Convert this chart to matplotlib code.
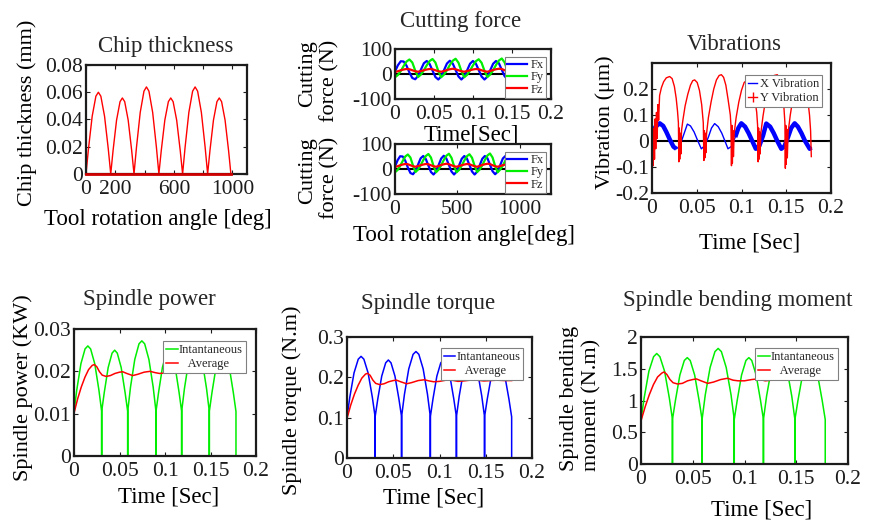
import numpy as np
import matplotlib
matplotlib.use("Agg")
import matplotlib.pyplot as plt
from matplotlib.lines import Line2D

plt.rcParams['font.family'] = ['Liberation Serif', 'DejaVu Serif']
plt.rcParams['axes.unicode_minus'] = False
plt.rcParams['text.color'] = '#262626'

FIG_W, FIG_H = 871, 520
INK = '#1c1c1c'
RED, BLUE, GREEN = '#ff0000', '#0000ff', '#00ee00'

# ---------------- chip thickness (deg, mm) ----------------
LOBE_FRACTIONS = [0.0, 0.1, 0.25, 0.4, 0.5, 0.6, 0.75, 0.9, 1.0]

chip_edges = [0, 169, 328, 498, 660, 831, 990]
chip_lobes = [
    [0, .0185, .0424, .0571, .0600, .0571, .0424, .0185, 0],
    [0, .0172, .0395, .0531, .0558, .0531, .0395, .0172, 0],
    [0, .0197, .0452, .0608, .0639, .0608, .0452, .0197, 0],
    [0, .0172, .0395, .0531, .0558, .0531, .0395, .0172, 0],
    [0, .0197, .0452, .0608, .0639, .0608, .0452, .0197, 0],
    [0, .0172, .0395, .0531, .0558, .0531, .0395, .0172, 0],
]
chip_baseline_end = 990

# ---------------- cutting forces (N) ----------------
FORCE_DT = 0.0037          # s between samples
DEG_PER_SEC = 5560         # spindle speed
fx_force = [10, 35, 51, 50, 33, 6, -16, -21,
            -8, 18, 43, 52, 40, 14, -12, -22,
            -10, 16, 42, 53, 42, 16, -10, -22,
            -10, 15, 41, 52, 42, 16, -10, -22,
            -11, 15, 41, 52, 43, 17, -9, -21,
            -10, 16, 42, 52, 42, 16, -10, -22]
fy_force = [-13, -4, 12, 32, 50, 58, 46, 14,
            -12, -2, 15, 35, 52, 60, 46, 12,
            -13, -2, 15, 36, 53, 61, 45, 12,
            -13, -3, 14, 34, 51, 59, 45, 13,
            -12, -2, 15, 36, 54, 62, 46, 12,
            -13, -2, 14, 34, 52, 60, 45, 12]
fz_force = [8, 11, 15, 18, 20, 19, 15, 11,
            9, 12, 15, 18, 20, 19, 15, 11,
            9, 12, 16, 19, 21, 19, 15, 11,
            9, 12, 15, 18, 20, 19, 15, 11,
            9, 12, 16, 19, 21, 20, 15, 11,
            9, 12, 15, 18, 20, 19, 15, 11]

# ---------------- vibrations (um) ----------------
vib_x_time = [0.0000, 0.0040, 0.0086, 0.0125, 0.0160, 0.0200, 0.0240, 0.0272,
              0.0310, 0.0350, 0.0395, 0.0430, 0.0470, 0.0510, 0.0551,
              0.0590, 0.0630, 0.0665, 0.0700, 0.0740, 0.0780, 0.0815, 0.0849,
              0.0890, 0.0930, 0.0965, 0.0998, 0.1040, 0.1080, 0.1120, 0.1160,
              0.1200, 0.1240, 0.1277, 0.1320, 0.1360, 0.1400, 0.1445,
              0.1480, 0.1520, 0.1555, 0.1594, 0.1630, 0.1670, 0.1710, 0.1762, 0.1780]
vib_x = [0.028, 0.055, 0.068, 0.058, 0.035, 0.005, -0.022, -0.030,
         -0.020, 0.020, 0.065, 0.058, 0.035, 0.002, -0.030,
         -0.018, 0.015, 0.050, 0.067, 0.055, 0.030, 0.000, -0.030,
         -0.020, 0.015, 0.050, 0.068, 0.055, 0.030, 0.000, -0.030,
         -0.018, 0.020, 0.067, 0.055, 0.030, 0.000, -0.030,
         -0.020, 0.015, 0.050, 0.068, 0.055, 0.030, 0.000, -0.030, -0.025]
vib_x_chatter = [(0.0, 0.029), (0.091, 0.178)]   # where X shows a dense band

vib_y_time = [0.0000, 0.0007, 0.0014, 0.0021, 0.0028, 0.0035, 0.0042, 0.0050, 0.0058, 0.0066, 0.0074, 0.0085,
              0.0105, 0.0130, 0.0160, 0.0197, 0.0225, 0.0250, 0.0270, 0.0285, 0.0295,
              0.0300, 0.0305, 0.0310, 0.0316, 0.0322, 0.0330,
              0.0345, 0.0370, 0.0400, 0.0430, 0.0455, 0.0477, 0.0505, 0.0530, 0.0555, 0.0573,
              0.0580, 0.0585, 0.0590, 0.0596, 0.0602, 0.0610,
              0.0630, 0.0660, 0.0690, 0.0720, 0.0750, 0.0775, 0.0800, 0.0825, 0.0850, 0.0875, 0.0882,
              0.0888, 0.0893, 0.0898, 0.0904, 0.0910, 0.0918,
              0.0940, 0.0970, 0.1000, 0.1030, 0.1073, 0.1100, 0.1125, 0.1150, 0.1170, 0.1180,
              0.1186, 0.1191, 0.1196, 0.1202, 0.1208, 0.1216,
              0.1240, 0.1270, 0.1300, 0.1330, 0.1365, 0.1400, 0.1425, 0.1450, 0.1470, 0.1485,
              0.1490, 0.1495, 0.1500, 0.1506, 0.1512, 0.1520,
              0.1545, 0.1575, 0.1605, 0.1635, 0.1665, 0.1690, 0.1715, 0.1740, 0.1760, 0.1772, 0.1780]
vib_y = [-0.110, 0.020, -0.095, 0.050, -0.070, 0.085, -0.030, 0.110, 0.010, 0.140, 0.080, 0.175,
         0.205, 0.228, 0.243, 0.248, 0.240, 0.210, 0.165, 0.115, 0.070,
         -0.080, 0.050, -0.070, 0.030, -0.050, 0.040,
         0.080, 0.135, 0.180, 0.215, 0.232, 0.235, 0.225, 0.195, 0.140, 0.070,
         -0.075, 0.040, -0.065, 0.030, -0.045, 0.030,
         0.090, 0.150, 0.200, 0.235, 0.252, 0.255, 0.245, 0.215, 0.160, 0.100, 0.060,
         -0.095, 0.060, -0.085, 0.040, -0.060, 0.030,
         0.090, 0.150, 0.195, 0.225, 0.237, 0.230, 0.205, 0.160, 0.110, 0.060,
         -0.080, 0.050, -0.070, 0.035, -0.050, 0.030,
         0.095, 0.160, 0.205, 0.235, 0.252, 0.255, 0.240, 0.205, 0.150, 0.070,
         -0.105, 0.060, -0.090, 0.045, -0.065, 0.030,
         0.100, 0.165, 0.210, 0.240, 0.250, 0.245, 0.215, 0.160, 0.100, 0.040, -0.060]

# ---------------- spindle loads ----------------
spindle_edges = [0, 0.0304, 0.0590, 0.0901, 0.1183, 0.1487, 0.1780]
power_lobes = [
    [.0104, .0156, .0218, .0253, .0260, .0253, .0218, .0156, .0105],
    [.0105, .0150, .0209, .0243, .0250, .0243, .0209, .0150, .0105],
    [.0105, .0163, .0228, .0265, .0272, .0265, .0228, .0163, .0105],
    [.0105, .0150, .0209, .0243, .0250, .0243, .0209, .0150, .0105],
    [.0105, .0159, .0222, .0258, .0265, .0258, .0222, .0159, .0105],
    [.0105, .0150, .0209, .0243, .0250, .0243, .0209, .0150, .0105],
]
torque_lobes = [
    [.101, .151, .211, .245, .252, .245, .211, .151, .102],
    [.102, .146, .203, .236, .243, .236, .203, .146, .102],
    [.102, .158, .221, .257, .264, .257, .221, .158, .102],
    [.102, .146, .203, .236, .243, .236, .203, .146, .102],
    [.102, .154, .215, .250, .257, .250, .215, .154, .102],
    [.102, .146, .203, .236, .243, .236, .203, .146, .102],
]
moment_lobes = [
    [.69, 1.04, 1.46, 1.69, 1.74, 1.69, 1.46, 1.04, .70],
    [.70, 1.00, 1.40, 1.63, 1.675, 1.63, 1.40, 1.00, .70],
    [.70, 1.09, 1.52, 1.77, 1.82, 1.77, 1.52, 1.09, .70],
    [.70, 1.00, 1.40, 1.63, 1.675, 1.63, 1.40, 1.00, .70],
    [.70, 1.07, 1.49, 1.73, 1.775, 1.73, 1.49, 1.07, .70],
    [.70, 1.00, 1.40, 1.63, 1.675, 1.63, 1.40, 1.00, .70],
]
avg_time = [0, 0.004, 0.008, 0.012, 0.016, 0.020, 0.0223, 0.025, 0.028, 0.031, 0.0353,
            0.040, 0.045, 0.050, 0.0535, 0.058, 0.0645, 0.070, 0.077, 0.0836, 0.089,
            0.0938, 0.100, 0.107, 0.113, 0.120, 0.126, 0.133, 0.140, 0.148, 0.155,
            0.162, 0.170, 0.178]
power_avg = [0.0101, 0.0135, 0.0163, 0.0186, 0.0204, 0.0214, 0.0216, 0.0211, 0.0199, 0.0191, 0.0188,
             0.0190, 0.0195, 0.0198, 0.0199, 0.0195, 0.0190, 0.0193, 0.0198, 0.0200, 0.0197,
             0.0195, 0.0196, 0.0199, 0.0199, 0.0196, 0.0197, 0.0199, 0.0199, 0.0197, 0.0198,
             0.0199, 0.0198, 0.0198]
torque_avg = [0.098, 0.131, 0.158, 0.180, 0.198, 0.208, 0.210, 0.205, 0.193, 0.185, 0.182,
              0.184, 0.189, 0.192, 0.193, 0.189, 0.184, 0.187, 0.192, 0.194, 0.191,
              0.189, 0.190, 0.193, 0.193, 0.190, 0.191, 0.193, 0.193, 0.191, 0.192,
              0.193, 0.192, 0.192]
moment_avg = [0.68, 0.90, 1.09, 1.25, 1.37, 1.43, 1.45, 1.41, 1.33, 1.28, 1.26,
              1.27, 1.31, 1.33, 1.34, 1.31, 1.27, 1.29, 1.33, 1.35, 1.32,
              1.31, 1.31, 1.33, 1.34, 1.31, 1.32, 1.33, 1.34, 1.32, 1.33,
              1.34, 1.33, 1.33]

TIME_TICKS = [0, 0.05, 0.1, 0.15, 0.2]
TIME_LABELS = ['0', '0.05', '0.1', '0.15', '0.2']


def lobe_curve(edges, lobes, dip_to_zero):
    xs, ys = [], []
    for i, vals in enumerate(lobes):
        a, b = edges[i], edges[i + 1]
        xs += [a + f * (b - a) for f in LOBE_FRACTIONS]
        ys += list(vals)
        if dip_to_zero:
            xs.append(b)
            ys.append(0.0)
    return xs, ys


def px_axes(fig, x0, y0, x1, y1):
    ax = fig.add_axes([x0 / FIG_W, 1 - y1 / FIG_H, (x1 - x0) / FIG_W, (y1 - y0) / FIG_H])
    for s in ax.spines.values():
        s.set_linewidth(1.6)
        s.set_color(INK)
    ax.tick_params(direction='in', top=True, right=True, length=3, width=0.8,
                   labelsize=15.5, colors=INK)
    ax.tick_params(axis='x', pad=4)
    ax.tick_params(axis='y', pad=2)
    return ax


def put_labels(ax, title, title_x, title_pad, xlabel, xpos, ylabel, ypos, yalign='center'):
    ax.set_title(title, fontsize=16.5, x=title_x, pad=title_pad)
    ax.set_xlabel(xlabel, fontsize=16.5)
    ax.xaxis.set_label_coords(*xpos)
    ax.xaxis.label.set_va('center')
    ax.set_ylabel(ylabel, fontsize=16, multialignment=yalign)
    ax.yaxis.set_label_coords(*ypos)
    ax.yaxis.label.set_va('center')


def box_legend(ax, handles, labels, loc, anchor, **kw):
    opts = dict(fontsize=9, fancybox=False, edgecolor='#808080', framealpha=1,
                borderpad=0.25, labelspacing=0.15, handlelength=1.8,
                handletextpad=0.3, borderaxespad=0)
    opts.update(kw)
    leg = ax.legend(handles, labels, loc=loc, bbox_to_anchor=anchor, **opts)
    leg.get_frame().set_linewidth(0.8)
    return leg


fig = plt.figure(figsize=(FIG_W / 100, FIG_H / 100), dpi=100)
fig.patch.set_facecolor('white')

# ---- Chip thickness ----
ax = px_axes(fig, 86, 65, 247, 174)
cx, cy = lobe_curve(chip_edges, chip_lobes, dip_to_zero=False)
ax.plot(cx, cy, color=RED, lw=1.0)
ax.plot([0, chip_baseline_end], [0, 0], color='#d00000', lw=2.0, clip_on=False, zorder=3)
ax.set_xlim(0, 1100)
ax.set_ylim(0, 0.08)
ax.set_xticks([0, 200, 400, 600, 800, 1000])
ax.set_xticklabels(['0', '200', '', '600', '', '1000'])
ax.set_yticks([0, 0.02, 0.04, 0.06, 0.08])
ax.set_yticklabels(['0', '0.02', '0.04', '0.06', '0.08'])
put_labels(ax, 'Chip thickness', 0.497, 9, 'Tool rotation angle [deg]', (0.447, -0.42),
           'Chip thickness (mm)', (-0.366, 0.564))

# ---- Cutting force (time / angle) ----
force_time = np.arange(len(fx_force)) * FORCE_DT
force_angle = force_time * DEG_PER_SEC
for row, (xdata, xlim, xticks, xlabels, xlab, xpos, ypos) in enumerate([
        (force_time, 0.2, TIME_TICKS, TIME_LABELS, 'Time[Sec]', (0.487, -0.72), (-0.487, 0.36)),
        (force_angle, 1250, [0, 500, 1000], ['0', '500', '1000'], 'Tool rotation angle[deg]',
         (0.443, -0.82), (-0.487, 0.32))]):
    top = 49 if row == 0 else 144
    ax = px_axes(fig, 395, top, 551, top + 50)
    ax.axhline(0, color='black', lw=1.5, zorder=1.5)
    hx, = ax.plot(xdata, fx_force, color=BLUE, lw=1.6)
    hy, = ax.plot(xdata, fy_force, color=GREEN, lw=1.6)
    hz, = ax.plot(xdata, fz_force, color=RED, lw=1.6)
    ax.set_xlim(0, xlim)
    ax.set_ylim(-100, 100)
    ax.set_xticks(xticks)
    ax.set_xticklabels(xlabels)
    ax.set_yticks([-100, 0, 100])
    ax.set_yticklabels(['-100', '0', '100'])
    ax.set_xlabel(xlab, fontsize=16.5)
    ax.xaxis.set_label_coords(*xpos)
    ax.xaxis.label.set_va('center')
    ax.set_ylabel('Cutting\nforce (N)', fontsize=16, multialignment='right')
    ax.yaxis.set_label_coords(*ypos)
    ax.yaxis.label.set_va('center')
    if row == 0:
        ax.set_title('Cutting force', fontsize=16.5, x=0.422, pad=16)
    box_legend(ax, [hx, hy, hz], ['Fx', 'Fy', 'Fz'], 'lower right', (0.968, 0.03),
               borderpad=0.15, labelspacing=0.02, handlelength=1.6)

# ---- Vibrations ----
ax = px_axes(fig, 652, 63, 831, 193)
ax.axhline(0, color='black', lw=1.5, zorder=1.5)
ax.plot(vib_x_time, vib_x, color=BLUE, lw=1.0)
vt = np.array(vib_x_time)
vx = np.array(vib_x)
for a, b in vib_x_chatter:
    m = (vt >= a) & (vt <= b)
    ax.plot(vt[m], vx[m], color=BLUE, lw=3.2, solid_capstyle='butt')
ax.plot(vib_y_time, vib_y, color=RED, lw=1.0)
ax.set_xlim(0, 0.2)
ax.set_ylim(-0.2, 0.3)
ax.set_xticks(TIME_TICKS)
ax.set_xticklabels(TIME_LABELS)
ax.set_yticks([-0.2, -0.1, 0, 0.1, 0.2])
ax.set_yticklabels(['-0.2', '-0.1', '0', '0.1', '0.2'])
put_labels(ax, 'Vibrations', 0.457, 9.5, 'Time [Sec]', (0.547, -0.385),
           'Vibration (\u03bcm)', (-0.263, 0.546))
box_legend(ax, [Line2D([], [], color=BLUE, lw=1.0),
                Line2D([], [], color=RED, lw=1.0, marker='|', markersize=7)],
           ['X Vibration', 'Y Vibration'], 'upper right', (0.95, 0.908),
           handlelength=0.7, handletextpad=0.2)

# ---- Spindle power / torque / moment ----
spindle_panels = [
    dict(rect=(74, 329, 256, 456), lobes=power_lobes, avg=power_avg, color=GREEN,
         ylim=0.03, yticks=[0, 0.01, 0.02, 0.03], ylabels=['0', '0.01', '0.02', '0.03'],
         title='Spindle power', tx=0.416, tpad=17.5, xpos=(0.522, -0.323),
         ylabel='Spindle power (KW)', ypos=(-0.28, 0.535), yalign='center',
         anchor=(0.945, 0.906)),
    dict(rect=(347, 337, 532, 458), lobes=torque_lobes, avg=torque_avg, color=BLUE,
         ylim=0.3, yticks=[0, 0.1, 0.2, 0.3], ylabels=['0', '0.1', '0.2', '0.3'],
         title='Spindle torque', tx=0.438, tpad=20, xpos=(0.47, -0.33),
         ylabel='Spindle torque (N.m)', ypos=(-0.295, 0.479), yalign='center',
         anchor=(0.953, 0.907)),
    dict(rect=(641, 337, 848, 464), lobes=moment_lobes, avg=moment_avg, color=GREEN,
         ylim=2, yticks=[0, 0.5, 1, 1.5, 2], ylabels=['0', '0.5', '1', '1.5', '2'],
         title='Spindle bending moment', tx=0.466, tpad=22, xpos=(0.582, -0.362),
         ylabel='Spindle bending\nmoment (N.m)', ypos=(-0.29, 0.516), yalign='left',
         anchor=(0.952, 0.911)),
]
for p in spindle_panels:
    ax = px_axes(fig, *p['rect'])
    sx, sy = lobe_curve(spindle_edges, p['lobes'], dip_to_zero=True)
    hi, = ax.plot(sx, sy, color=p['color'], lw=1.1)
    ha, = ax.plot(avg_time, p['avg'], color=RED, lw=1.1)
    ax.set_xlim(0, 0.2)
    ax.set_ylim(0, p['ylim'])
    ax.set_xticks(TIME_TICKS)
    ax.set_xticklabels(TIME_LABELS)
    ax.set_yticks(p['yticks'])
    ax.set_yticklabels(p['ylabels'])
    put_labels(ax, p['title'], p['tx'], p['tpad'], 'Time [Sec]', p['xpos'],
               p['ylabel'], p['ypos'], p['yalign'])
    box_legend(ax, [hi, ha], ['Intantaneous', '   Average'], 'upper right', p['anchor'],
               handlelength=0.9, handletextpad=0.1)

fig.savefig('out.png', dpi=100)
